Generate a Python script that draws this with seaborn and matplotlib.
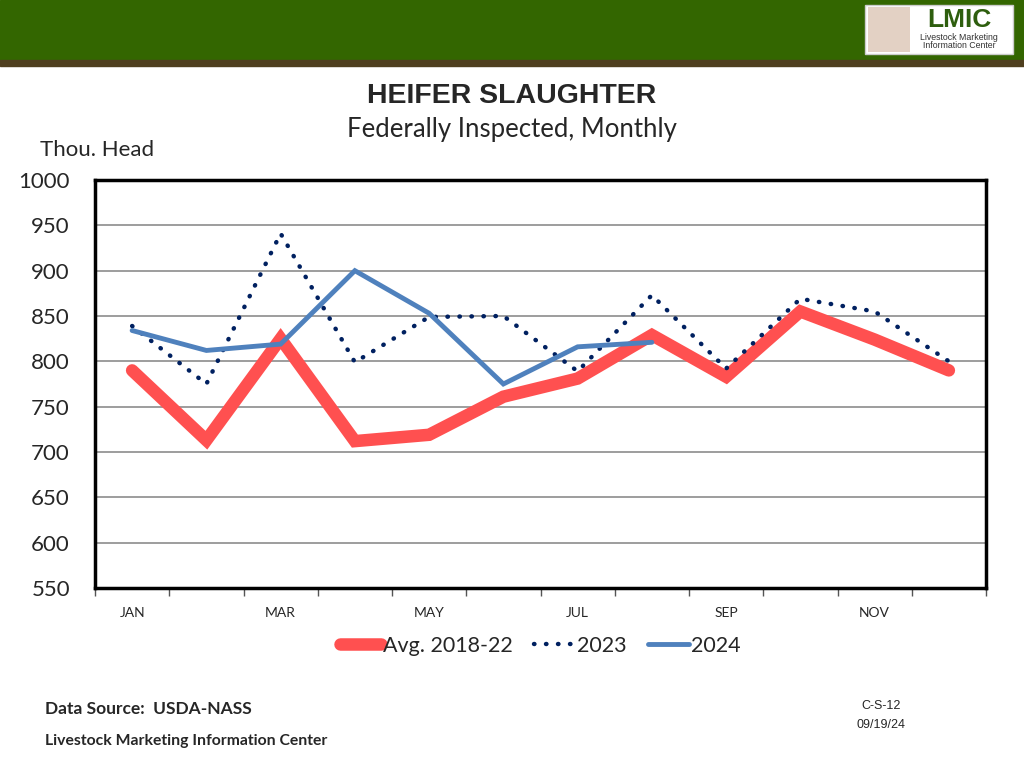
import matplotlib
matplotlib.use("Agg")
import matplotlib.pyplot as plt
from matplotlib.patches import Rectangle
from matplotlib.ticker import FixedLocator, NullFormatter
import seaborn as sns
import pandas as pd

months = ["JAN", "FEB", "MAR", "APR", "MAY", "JUN", "JUL", "AUG", "SEP", "OCT", "NOV", "DEC"]
avg_2018_22 = [790, 713, 825, 712, 719, 761, 781, 829, 783, 855, 824, 790]
y2023 = [839, 775, 941, 799, 849, 850, 789, 873, 792, 869, 855, 800]
y2024 = [834, 812, 819, 900, 853, 775, 816, 821]

sns.set_theme(style="white")
plt.rcParams["font.family"] = ["Lato", "DejaVu Sans"]

fig = plt.figure(figsize=(10.24, 7.68), dpi=100)
ax = fig.add_axes([95/1024, 1-588/768, (986-95)/1024, (588-180)/768])

pos = list(range(1, 13))
df_avg = pd.DataFrame({"m": pos, "v": avg_2018_22})
df_23 = pd.DataFrame({"m": pos, "v": y2023})
df_24 = pd.DataFrame({"m": pos[:len(y2024)], "v": y2024})

sns.lineplot(data=df_avg, x="m", y="v", ax=ax, color="#FF5050", linewidth=9,
             solid_capstyle="round", solid_joinstyle="miter", label="Avg. 2018-22", zorder=3)
sns.lineplot(data=df_23, x="m", y="v", ax=ax, color="#002060", linewidth=3.2,
             linestyle=(0, (0.1, 2.6)), label="2023", zorder=4)
sns.lineplot(data=df_24, x="m", y="v", ax=ax, color="#4F81BD", linewidth=3.5,
             solid_joinstyle="miter", label="2024", zorder=5)
ax.lines[1].set_dash_capstyle("round")

ax.set_xlim(0.5, 12.5)
ax.set_ylim(550, 1000)
ax.set_yticks(range(550, 1001, 50))
ax.yaxis.grid(True, color="#8C8C8C", linewidth=1.2)
ax.xaxis.grid(False)
ax.tick_params(axis="y", labelsize=16, length=0, pad=18)
ax.set_xlabel("")
ax.set_ylabel("")

# ticks at category boundaries, labels at odd months
ax.xaxis.set_major_locator(FixedLocator([i + 0.5 for i in range(0, 13)]))
ax.xaxis.set_major_formatter(NullFormatter())
ax.xaxis.set_minor_locator(FixedLocator(pos[::2]))
ax.set_xticklabels(months[::2], minor=True)
ax.tick_params(axis="x", which="major", length=6, width=1, color="#555555", direction="out", bottom=True)
ax.tick_params(axis="x", which="minor", length=0, labelsize=10, pad=14)

for s in ax.spines.values():
    s.set_color("black")
    s.set_linewidth(2.5)

leg = ax.legend(loc="upper center", bbox_to_anchor=(0.5, -0.07), ncol=3, frameon=False,
                fontsize=15.5, handlelength=1.9, handletextpad=0.1, columnspacing=1.0)
for h in leg.get_lines():
    h.set_solid_capstyle("round")
    h.set_dash_capstyle("round")

# Header banner
fig.patches.append(Rectangle((0, 1-60/768), 1, 60/768, transform=fig.transFigure,
                             color="#336600", zorder=0))
fig.patches.append(Rectangle((0, 1-66/768), 1, 6/768, transform=fig.transFigure,
                             color="#4F3F1F", zorder=0))
# logo
fig.patches.append(Rectangle((865/1024, 1-54/768), 148/1024, 49/768, transform=fig.transFigure,
                             facecolor="white", edgecolor="#cccccc", zorder=1))
fig.patches.append(Rectangle((868/1024, 1-52/768), 42/1024, 45/768, transform=fig.transFigure,
                             facecolor="#C8A58A", edgecolor="none", alpha=0.5, zorder=2))
fig.text(959/1024, 1-20/768, "LMIC", color="#2E5E0E", fontsize=19, fontweight="bold",
         family=["Liberation Sans"], ha="center", va="center", zorder=3)
fig.text(959/1024, 1-38/768, "Livestock Marketing", color="#333333", fontsize=6.3,
         family=["Liberation Sans"], ha="center", va="center", zorder=3)
fig.text(959/1024, 1-46/768, "Information Center", color="#333333", fontsize=6.3,
         family=["Liberation Sans"], ha="center", va="center", zorder=3)

# Titles
fig.text(512/1024, 1-96/768, "HEIFER SLAUGHTER", fontsize=20.5, fontweight="bold",
         family=["Liberation Sans"], ha="center", va="center")
fig.text(512/1024, 1-130/768, "Federally Inspected, Monthly", fontsize=18.5,
         ha="center", va="center")
fig.text(40/1024, 1-150/768, "Thou. Head", fontsize=16, ha="left", va="center")

# Footer
fig.text(45/1024, 1-709/768, "Data Source:  USDA-NASS", fontsize=12.5, fontweight="bold",
         ha="left", va="center")
fig.text(45/1024, 1-741/768, "Livestock Marketing Information Center", fontsize=11.3,
         fontweight="bold", ha="left", va="center")
fig.text(881/1024, 1-706/768, "C-S-12", fontsize=9, family=["Liberation Sans"],
         ha="center", va="center")
fig.text(881/1024, 1-725/768, "09/19/24", fontsize=9, family=["Liberation Sans"],
         ha="center", va="center")

fig.savefig("out.png", dpi=100)
